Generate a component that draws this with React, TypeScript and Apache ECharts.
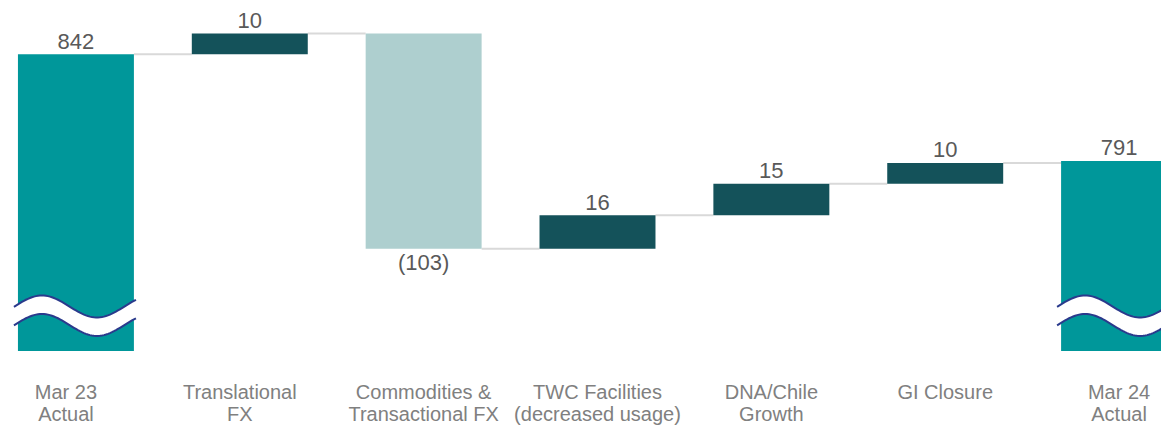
import React, { useEffect, useRef } from "react";
import * as echarts from "echarts";

const categories = [
  "Mar 23\nActual",
  "Translational\nFX",
  "Commodities &\nTransactional FX",
  "TWC Facilities\n(decreased usage)",
  "DNA/Chile\nGrowth",
  "GI Closure",
  "Mar 24\nActual",
];
const startValue = 842;
const deltas = [10, -103, 16, 15, 10];
const endValue = 791;
const axisMin = 700;
const axisMax = 868;
const breakValue = 717;

type Bar = { i: number; lo: number; hi: number; kind: string; label: string };

function buildBars() {
  const bars: Bar[] = [];
  const levels: number[] = [];
  bars.push({ i: 0, lo: axisMin, hi: startValue, kind: "total", label: String(startValue) });
  let running = startValue;
  levels.push(running);
  deltas.forEach((d, k) => {
    const next = running + d;
    bars.push({
      i: k + 1,
      lo: Math.min(running, next),
      hi: Math.max(running, next),
      kind: d >= 0 ? "up" : "down",
      label: d >= 0 ? String(d) : `(${-d})`,
    });
    running = next;
    levels.push(running);
  });
  bars.push({ i: categories.length - 1, lo: axisMin, hi: endValue, kind: "total", label: String(endValue) });
  return { bars, levels };
}

const COLORS: Record<string, string> = {
  total: "#00979a",
  up: "#14525a",
  down: "#aecfcf",
};
const FONT = "'Liberation Sans', Arial, sans-serif";
const BAR_RATIO = 0.667;

export default function App() {
  const ref = useRef<HTMLDivElement>(null);
  useEffect(() => {
    if (!ref.current) return;
    const chart = echarts.init(ref.current, undefined, { renderer: "svg" });
    const { bars, levels } = buildBars();

    const option: any = {
      animation: false,
      grid: { left: 0, right: 0, top: 0, height: 354, containLabel: false },
      xAxis: {
        type: "category",
        data: categories,
        axisLine: { show: false },
        axisTick: { show: false },
        axisLabel: {
          interval: 0,
          margin: 30,
          color: "#808080",
          fontSize: 20,
          fontFamily: FONT,
          lineHeight: 22,
          formatter: (val: string, idx: number) => {
            const tag = idx <= 1 ? "s" : "n";
            return val
              .split("\n")
              .map((l) => `{${tag}|${l}}`)
              .join("\n");
          },
          rich: {
            s: { padding: [0, 20, 0, 0], fontSize: 20, fontFamily: FONT, color: "#808080", lineHeight: 22 },
            n: { fontSize: 20, fontFamily: FONT, color: "#808080", lineHeight: 22 },
          },
        },
      },
      yAxis: { type: "value", min: axisMin, max: axisMax, show: false, splitLine: { show: false } },
      series: [
        {
          type: "custom",
          z: 1,
          data: levels.map((v, i) => [i, v]),
          renderItem: (params: any, api: any) => {
            const i = api.value(0);
            const v = api.value(1);
            const w = api.size([1, 0])[0] * BAR_RATIO;
            const a = api.coord([i, v]);
            const b = api.coord([i + 1, v]);
            return {
              type: "line",
              shape: { x1: a[0] + w / 2, y1: a[1], x2: b[0] - w / 2, y2: b[1] },
              style: { stroke: "#d9d9d9", lineWidth: 2 },
            };
          },
        },
        {
          type: "custom",
          z: 2,
          data: bars.map((b) => [b.i, b.lo, b.hi]),
          renderItem: (params: any, api: any) => {
            const bar = bars[params.dataIndex];
            const i = api.value(0);
            const p0 = api.coord([i, api.value(1)]);
            const p1 = api.coord([i, api.value(2)]);
            const w = api.size([1, 0])[0] * BAR_RATIO;
            const below = bar.kind === "down";
            return {
              type: "group",
              children: [
                {
                  type: "rect",
                  shape: { x: p1[0] - w / 2, y: p1[1], width: w, height: p0[1] - p1[1] },
                  style: { fill: COLORS[bar.kind] },
                },
                {
                  type: "text",
                  style: {
                    text: bar.label,
                    x: p1[0],
                    y: below ? p0[1] + 3 : p1[1] - 2,
                    align: "center",
                    verticalAlign: below ? "top" : "bottom",
                    fontSize: 22,
                    fontFamily: FONT,
                    fill: "#595959",
                  },
                },
              ],
            };
          },
        },
        {
          type: "custom",
          z: 3,
          data: [
            [0, breakValue],
            [categories.length - 1, breakValue],
          ],
          renderItem: (params: any, api: any) => {
            const c = api.coord([api.value(0), api.value(1)]);
            const w = api.size([1, 0])[0] * BAR_RATIO;
            const L = c[0] - w / 2;
            const xp = L + 24;
            const period = 110;
            const amp = 11;
            const upper: number[][] = [];
            const lower: number[][] = [];
            for (let x = L - 4; x <= L + w + 3.01; x += 2) {
              const cs = Math.cos((2 * Math.PI * (x - xp)) / period);
              upper.push([x, c[1] - 9 - amp * cs]);
              lower.push([x, c[1] + 9.5 - amp * cs]);
            }
            const poly = upper.concat(lower.slice().reverse());
            return {
              type: "group",
              children: [
                { type: "polygon", shape: { points: poly }, style: { fill: "#ffffff" } },
                { type: "polyline", shape: { points: upper }, style: { stroke: "#2a3a8c", lineWidth: 2, fill: "none" } },
                { type: "polyline", shape: { points: lower }, style: { stroke: "#2a3a8c", lineWidth: 2, fill: "none" } },
              ],
            };
          },
        },
      ],
    };
    chart.setOption(option);
    return () => chart.dispose();
  }, []);

  return (
    <div style={{ position: "absolute", left: 0, top: 0, width: 1161, height: 425, overflow: "hidden", background: "#fff" }}>
      <div ref={ref} style={{ position: "absolute", left: -11, top: 0, width: 1217, height: 425 }} />
    </div>
  );
}
